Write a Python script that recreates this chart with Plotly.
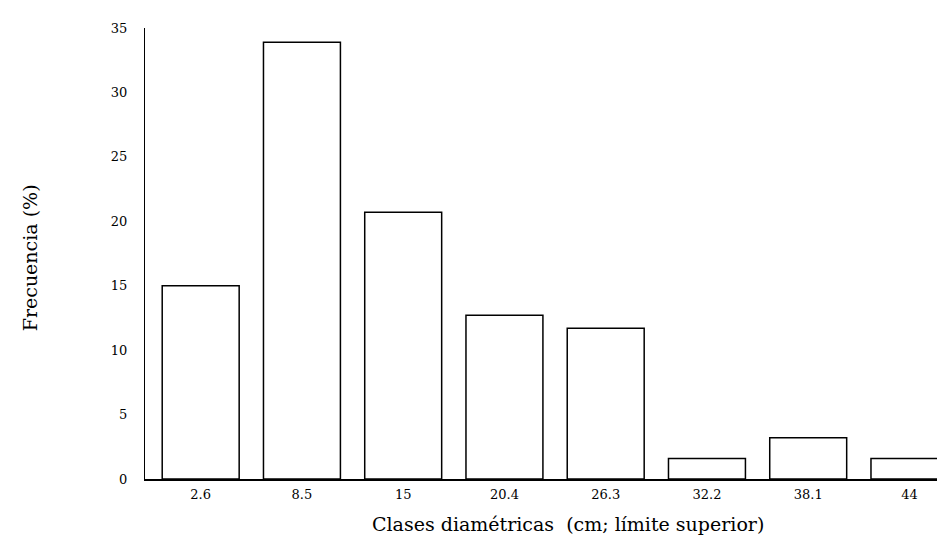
import plotly.graph_objects as go

categories = ["2.6", "8.5", "15", "20.4", "26.3", "32.2", "38.1", "44"]
frecuencia = [15.0, 33.9, 20.7, 12.7, 11.7, 1.6, 3.2, 1.6]
y_ticks = [0, 5, 10, 15, 20, 25, 30, 35]

serif = "DejaVu Serif, Liberation Serif, serif"

fig = go.Figure(go.Bar(
    x=list(range(len(categories))),
    y=frecuencia,
    width=0.76,
    marker=dict(color="white", line=dict(color="black", width=1.5)),
))

fig.update_layout(
    width=945, height=538,
    margin=dict(l=137, r=0, t=20, b=67),
    plot_bgcolor="white", paper_bgcolor="white",
    showlegend=False,
    font=dict(family=serif, color="black"),
    xaxis=dict(
        range=[-0.55, 7.43],
        tickmode="array", tickvals=list(range(len(categories))), ticktext=categories,
        showline=True, linecolor="black", linewidth=1.5,
        showgrid=False, zeroline=False, ticks="outside", ticklen=3, tickcolor="white",
        tickfont=dict(size=13, family=serif),
    ),
    yaxis=dict(
        range=[0, 35],
        tickmode="array", tickvals=y_ticks,
        showline=True, linecolor="black", linewidth=1,
        showgrid=False, zeroline=False, ticks="outside", ticklen=14, tickcolor="white",
        tickfont=dict(size=13, family=serif),
    ),
    annotations=[
        dict(text="Frecuencia (%)", xref="paper", yref="paper", x=-0.142, y=0.49,
             xanchor="center", yanchor="middle", textangle=-90, showarrow=False,
             font=dict(size=19, family=serif)),
        dict(text="Clases diamétricas  (cm; límite superior)", xref="paper", yref="paper",
             x=0.523, y=-0.1, xanchor="center", yanchor="middle", showarrow=False,
             font=dict(size=19, family=serif)),
    ],
)

fig.write_html("out.html")
